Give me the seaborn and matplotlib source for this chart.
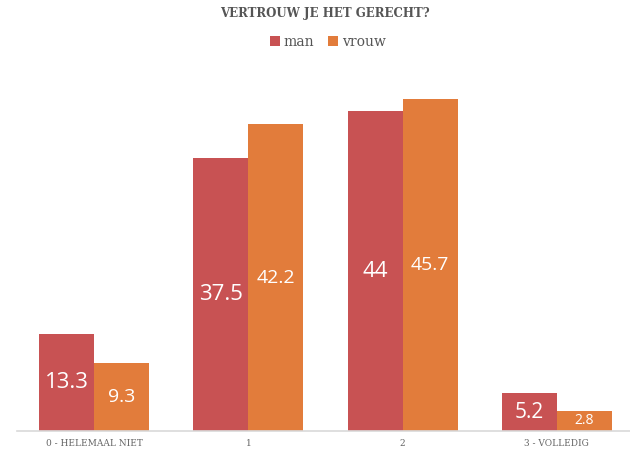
import pandas as pd
import matplotlib.pyplot as plt
import seaborn as sns

# Data
categories = ["0 - HELEMAAL NIET", "1", "2", "3 - VOLLEDIG"]
man = [13.3, 37.5, 44, 5.2]
vrouw = [9.3, 42.2, 45.7, 2.8]
series = ["man", "vrouw"]
colors = ["#C85253", "#E27C3B"]

df = pd.DataFrame({
    "cat": categories * 2,
    "value": man + vrouw,
    "sex": ["man"] * len(man) + ["vrouw"] * len(vrouw),
})

sns.set_style("white")
fig = plt.figure(figsize=(6.3, 4.51), dpi=100)
ax = fig.add_axes([17 / 630, 20 / 451, 617 / 630, 363.5 / 451])

sns.barplot(data=df, x="cat", y="value", hue="sex", hue_order=series,
            palette=colors, width=0.714, saturation=1, linewidth=0,
            ax=ax, legend=True)

ax.set_ylim(0, 50)
ax.set_xlim(-0.5, 3.5)
ax.set_xlabel("")
ax.set_ylabel("")
ax.set_yticks([])
for s in ["top", "left", "right"]:
    ax.spines[s].set_visible(False)
ax.spines["bottom"].set_color("#D9D9D9")
ax.spines["bottom"].set_linewidth(1.2)
ax.tick_params(axis="x", length=0, pad=6)
for lbl in ax.get_xticklabels():
    lbl.set_fontfamily("DejaVu Serif")
    lbl.set_fontsize(6.5)
    lbl.set_color("#666666")

# value labels in the middle of each bar
sizes = [[16, 16, 16, 15], [14, 14, 14, 10]]
for cont, sz in zip(ax.containers, sizes):
    texts = ax.bar_label(cont, labels=[f"{v:g}" for v in cont.datavalues],
                         label_type="center", color="white",
                         fontfamily="Open Sans")
    for t, s in zip(texts, sz):
        t.set_fontsize(s)

handles, labels = ax.get_legend_handles_labels()
ax.legend_.remove()
fig.legend(handles, labels, loc="center", bbox_to_anchor=(328 / 630, 1 - 42 / 451),
           ncol=2, frameon=False, handlelength=0.7, handleheight=0.7,
           handletextpad=0.3, columnspacing=1.0,
           prop={"family": "DejaVu Serif", "size": 10}, labelcolor="#555555")

fig.text(325 / 630, 1 - 14 / 451, "VERTROUW JE HET GERECHT?", ha="center", va="center",
         fontfamily="DejaVu Serif", fontweight="bold", fontsize=8.5, color="#555555")

fig.savefig("out.png", dpi=100)
